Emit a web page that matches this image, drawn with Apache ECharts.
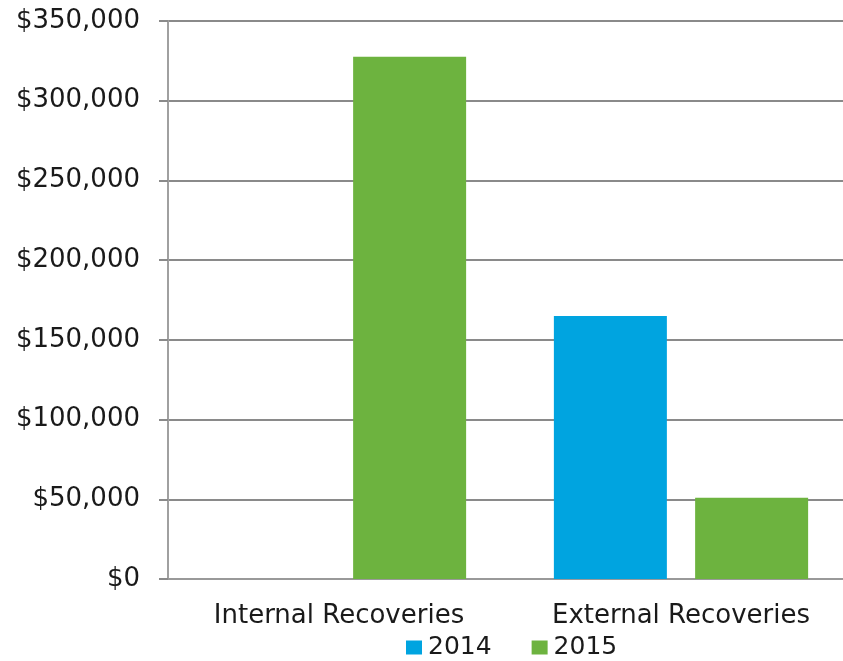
<!DOCTYPE html>
<html>
<head>
<meta charset="utf-8">
<script src="https://cdn.jsdelivr.net/npm/echarts@6/dist/echarts.min.js"></script>
<style>
  html, body { margin: 0; padding: 0; background: #fff; }
  #chart { width: 843px; height: 661px; }
</style>
</head>
<body>
<div id="chart"></div>
<script>
const categories = ['Internal Recoveries', 'External Recoveries']
const years = ['2014', '2015']
const values2014 = [0, 165000]
const values2015 = [327500, 51000]

const chart = echarts.init(document.getElementById('chart'))

function money(v) {
  return '$' + v.toLocaleString('en-US')
}

chart.setOption({
  animation: false,
  textStyle: { fontFamily: 'DejaVu Sans' },
  // plot runs a little past the right edge, like the original
  grid: { left: 168, width: 684, top: 21, bottom: 82, outerBoundsMode: 'none' },
  legend: {
    data: years,
    top: 635,
    left: 406,
    padding: 0,
    itemWidth: 16,
    itemHeight: 14,
    itemGap: 40,
    icon: 'rect',
    textStyle: { fontSize: 25, color: '#1a1a1a', fontFamily: 'DejaVu Sans', padding: [0, 0, 0, 1] }
  },
  xAxis: {
    type: 'category',
    data: categories,
    axisLine: { lineStyle: { color: '#999', width: 2 } },
    axisTick: { show: false },
    axisLabel: { fontSize: 26, color: '#1a1a1a', margin: 24 }
  },
  yAxis: {
    type: 'value',
    min: 0,
    max: 350000,
    interval: 50000,
    axisLine: { show: true, lineStyle: { color: '#a0a0a0', width: 2 } },
    axisTick: { show: true, length: 9, lineStyle: { color: '#8a8a8a', width: 2 } },
    splitLine: { lineStyle: { color: '#8a8a8a', width: 2 } },
    axisLabel: { fontSize: 26, color: '#1a1a1a', margin: 28, formatter: money }
  },
  series: [
    {
      name: '2014',
      type: 'bar',
      data: values2014,
      barWidth: 113,
      barGap: '25%',
      itemStyle: { color: '#00a4e0' }
    },
    {
      name: '2015',
      type: 'bar',
      data: values2015,
      barWidth: 113,
      barGap: '25%',
      itemStyle: { color: '#6db33f' }
    }
  ]
})
</script>
</body>
</html>
